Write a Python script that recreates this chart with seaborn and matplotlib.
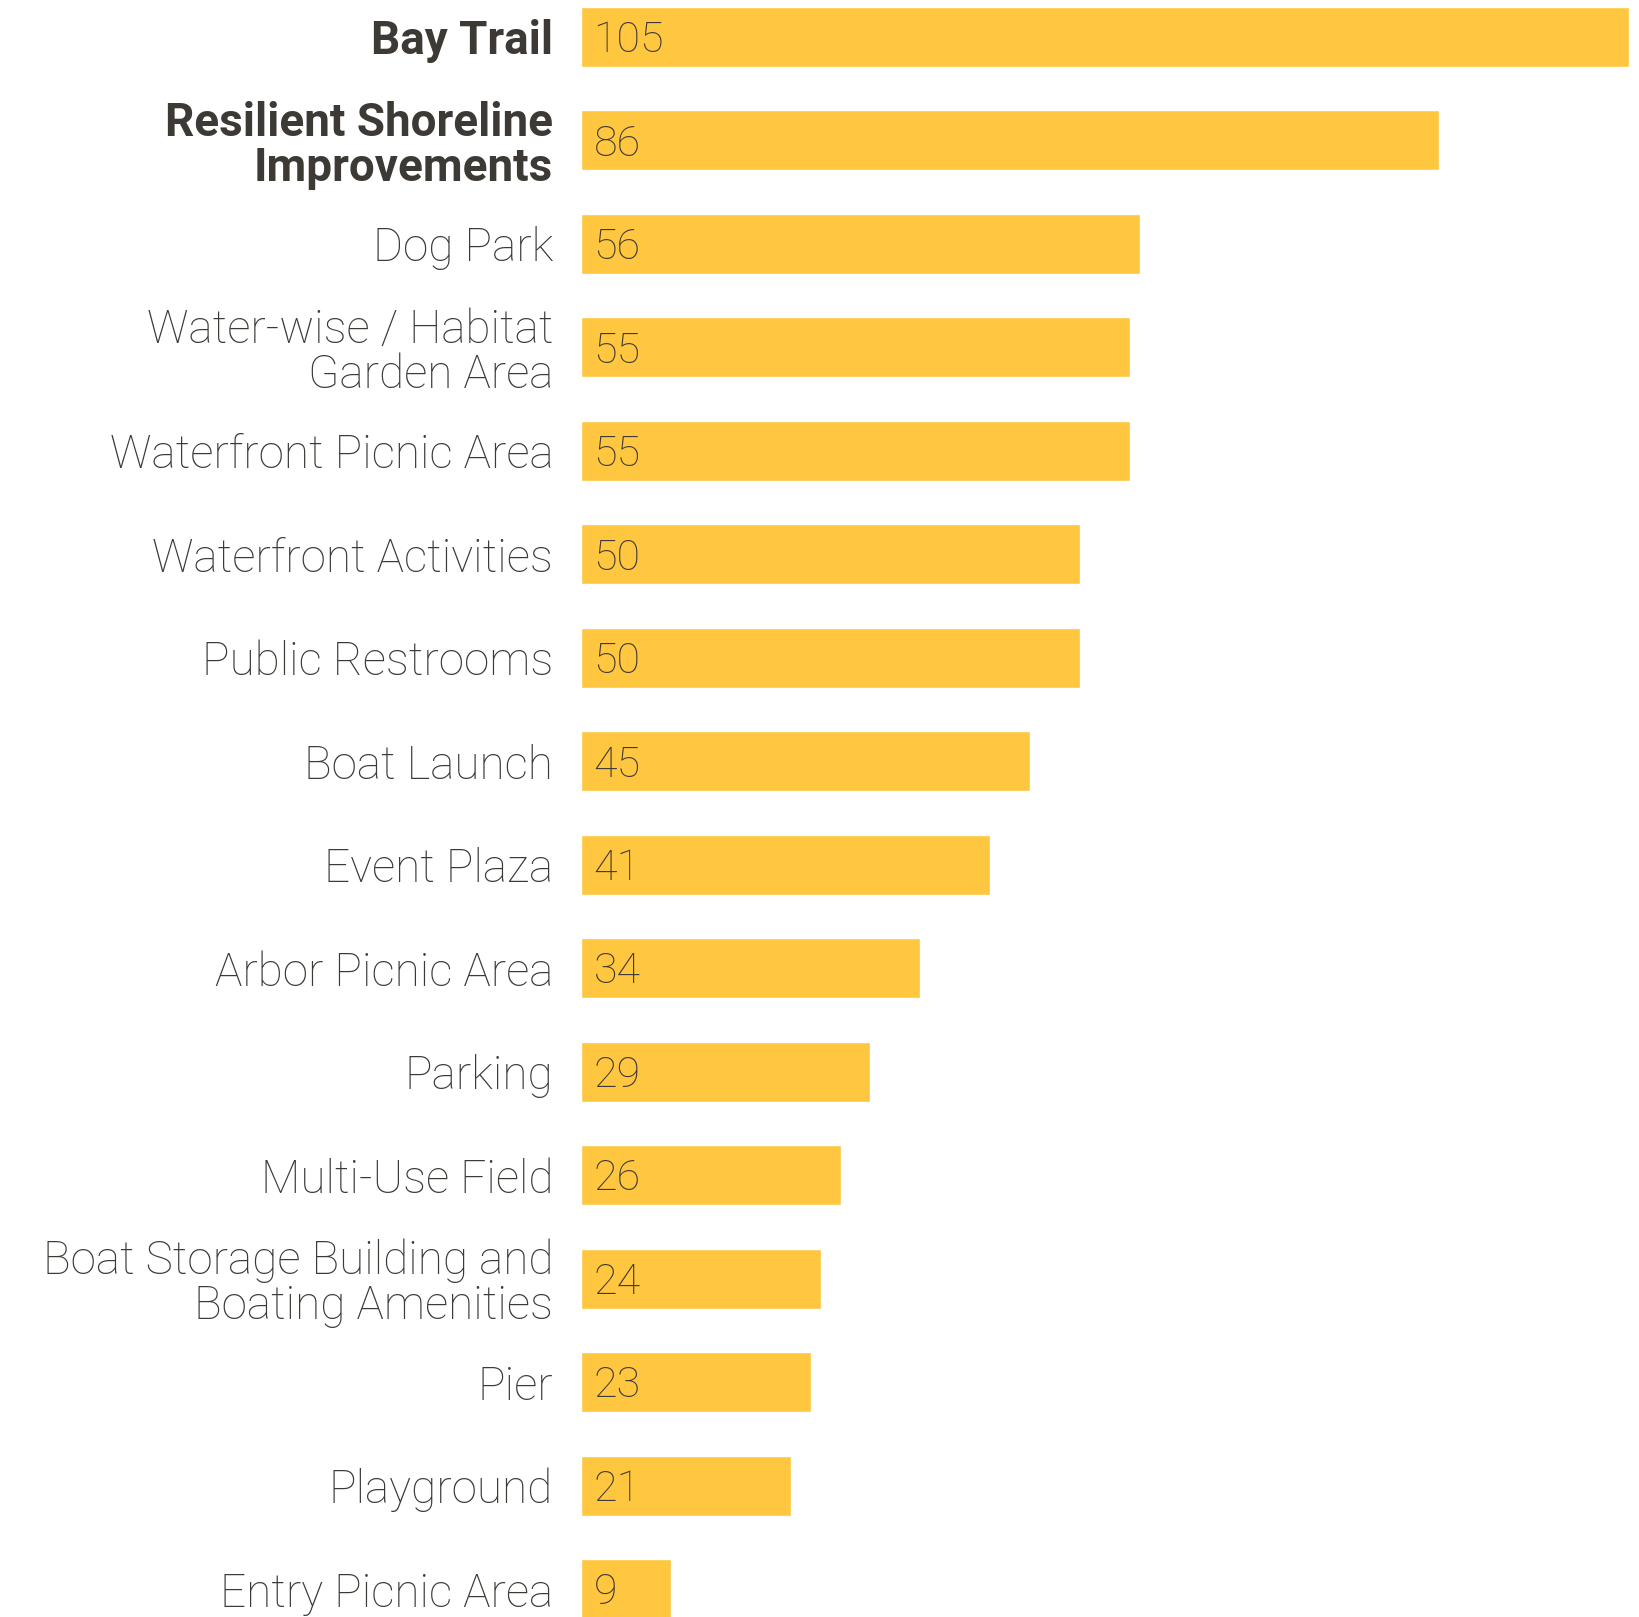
import matplotlib
matplotlib.use("Agg")
import matplotlib.pyplot as plt
import seaborn as sns
import pandas as pd

# Survey results: amenities ranked by number of votes
categories = [
    "Bay Trail",
    "Resilient Shoreline\nImprovements",
    "Dog Park",
    "Water-wise / Habitat\nGarden Area",
    "Waterfront Picnic Area",
    "Waterfront Activities",
    "Public Restrooms",
    "Boat Launch",
    "Event Plaza",
    "Arbor Picnic Area",
    "Parking",
    "Multi-Use Field",
    "Boat Storage Building and\nBoating Amenities",
    "Pier",
    "Playground",
    "Entry Picnic Area",
]
values = [105, 86, 56, 55, 55, 50, 50, 45, 41, 34, 29, 26, 24, 23, 21, 9]
bold_labels = ["Bay Trail", "Resilient Shoreline\nImprovements"]

BAR_COLOR = "#FFC640"
TEXT_COLOR = "#3D3935"

sns.set_style("white")
plt.rcParams['font.family'] = ['Roboto', 'DejaVu Sans']

df = pd.DataFrame({'category': categories, 'value': values})

fig = plt.figure(figsize=(16.39, 16.17), dpi=100)
ax = fig.add_axes([581 / 1639, 0, 1 - 581 / 1639, 1])

sns.barplot(data=df, x='value', y='category', orient='h', color=BAR_COLOR,
            saturation=1, width=0.58, ax=ax)

ax.set_xlim(0, 106)
ax.set_ylim(15.27, -0.357)
sns.despine(ax=ax, left=True, bottom=True)
ax.set_xticks([])
ax.set_xlabel('')
ax.set_ylabel('')

ax.set_yticks(range(len(categories)))
ax.set_yticklabels(categories)
ax.tick_params(axis='y', length=0, pad=20)
for lbl in ax.get_yticklabels():
    lbl.set_fontsize(33)
    lbl.set_color(TEXT_COLOR)
    lbl.set_linespacing(1.02)
    if lbl.get_text() in bold_labels:
        lbl.set_fontweight('bold')
    else:
        lbl.set_fontweight('light')

# value labels just inside the start of each bar, digits centred on the bar
for i, v in enumerate(values):
    ax.annotate(str(v), xy=(0, i), xytext=(9, -11), textcoords='offset points',
                va='baseline', ha='left', fontsize=31, fontweight='light',
                color=TEXT_COLOR)

plt.savefig("out.png", dpi=100)
plt.close()
